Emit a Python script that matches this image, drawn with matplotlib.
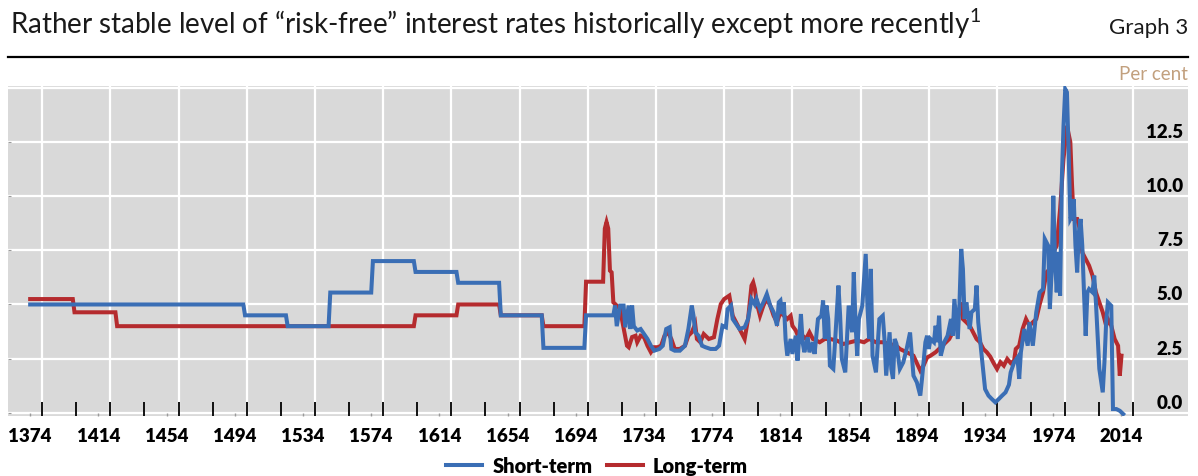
import matplotlib
matplotlib.use('Agg')
import matplotlib.pyplot as plt
from matplotlib.lines import Line2D
from matplotlib.transforms import ScaledTranslation

plt.rcParams['font.family'] = ['Lato', 'DejaVu Sans']
plt.rcParams['mathtext.fontset'] = 'custom'
plt.rcParams['mathtext.rm'] = 'Lato'

# short-term rate (per cent)
short_years = [1374, 1499, 1500, 1524, 1525, 1549, 1550, 1574, 1575, 1599, 1600, 1624, 1625, 1649,
               1650, 1674, 1675, 1699, 1700, 1716, 1717, 1718, 1720, 1722, 1723, 1725, 1726, 1727,
               1728, 1730, 1732, 1734, 1736, 1738, 1740, 1743, 1745, 1747, 1749, 1750, 1752, 1755,
               1758, 1760, 1762, 1763, 1764, 1766, 1768, 1770, 1773, 1776, 1778, 1780, 1782, 1783,
               1785, 1786, 1788, 1790, 1793, 1795, 1797, 1799, 1800, 1802, 1804, 1806, 1808, 1810,
               1812, 1813, 1814, 1815, 1816, 1817, 1818, 1820, 1821, 1823, 1824, 1826, 1827, 1828,
               1830, 1831, 1833, 1834, 1836, 1838, 1839, 1840, 1841, 1842, 1843, 1845, 1846, 1848,
               1849, 1850, 1852, 1853, 1854, 1856, 1857, 1858, 1859, 1860, 1862, 1864, 1865, 1866,
               1867, 1868, 1870, 1872, 1874, 1875, 1876, 1878, 1879, 1880, 1881, 1882, 1884, 1886,
               1888, 1890, 1892, 1894, 1896, 1897, 1899, 1900, 1901, 1902, 1904, 1905, 1906, 1907,
               1908, 1910, 1912, 1914, 1915, 1916, 1918, 1919, 1920, 1921, 1922, 1923, 1925, 1926,
               1928, 1929, 1930, 1932, 1934, 1936, 1938, 1940, 1942, 1944, 1946, 1948, 1949, 1951,
               1953, 1954, 1955, 1957, 1959, 1960, 1962, 1964, 1966, 1968, 1969, 1971, 1972, 1973,
               1974, 1975, 1976, 1977, 1978, 1979, 1980, 1981, 1982, 1983, 1984, 1985, 1986, 1987,
               1988, 1989, 1990, 1991, 1992, 1993, 1994, 1995, 1997, 1998, 1999, 2001, 2003, 2004,
               2005, 2006, 2008, 2009, 2011, 2013, 2015]
short_rates = [5.0, 5.0, 4.5, 4.5, 4.0, 4.0, 5.55, 5.55, 7.0, 7.0, 6.5, 6.5, 6.0, 6.0,
               4.5, 4.5, 3.0, 3.0, 4.5, 4.5, 4.95, 4.0, 4.95, 4.95, 3.95, 4.95, 3.87, 4.95,
               4.0, 3.8, 3.87, 3.64, 3.41, 3.1, 2.87, 2.95, 3.1, 3.87, 3.95, 2.95, 2.87, 2.87,
               3.1, 3.87, 4.95, 4.48, 3.72, 3.56, 3.1, 3.03, 2.95, 2.95, 3.1, 4.02, 3.95, 4.79,
               4.95, 4.33, 4.1, 3.87, 3.95, 4.33, 5.25, 5.0, 5.25, 4.79, 5.1, 5.48, 4.95, 4.64,
               4.02, 5.1, 5.18, 4.56, 5.1, 3.41, 2.64, 3.41, 2.72, 3.56, 2.41, 4.56, 3.26, 2.8,
               3.49, 2.8, 3.26, 2.72, 4.33, 4.48, 5.18, 3.41, 4.95, 4.33, 2.18, 2.03, 3.26, 5.87,
               4.48, 2.49, 1.87, 3.41, 4.95, 3.72, 6.48, 4.18, 2.64, 4.33, 4.95, 7.33, 4.95, 3.41,
               6.64, 2.64, 1.87, 4.33, 4.48, 3.41, 1.72, 3.72, 2.03, 1.57, 3.41, 3.2, 2.03, 2.33,
               2.95, 3.71, 1.72, 1.41, 0.8, 1.57, 3.26, 3.56, 2.95, 3.41, 3.26, 4.02, 3.26, 4.48,
               2.64, 3.26, 3.56, 4.33, 3.56, 5.25, 3.41, 5.1, 7.56, 6.64, 4.33, 5.1, 3.87, 4.64,
               4.79, 5.87, 4.18, 2.64, 1.1, 0.8, 0.64, 0.49, 0.64, 0.8, 0.95, 1.3, 1.87, 2.33,
               2.55, 1.57, 2.8, 3.87, 3.1, 4.18, 3.1, 4.64, 5.56, 5.71, 8.02, 7.71, 4.79, 6.48,
               10.01, 7.1, 5.56, 7.4, 5.41, 10.78, 13.24, 14.93, 14.78, 12.01, 8.94, 9.09, 9.86, 7.71,
               6.48, 8.33, 8.94, 7.71, 5.56, 3.56, 5.56, 5.71, 5.56, 6.33, 5.1, 2.03, 0.95, 2.34,
               4.18, 5.1, 4.94, 0.18, 0.18, 0.1, -0.05]

# long-term rate (per cent)
long_years = [1374, 1399, 1400, 1424, 1425, 1599, 1600, 1624, 1625, 1649, 1650, 1674, 1675, 1699,
              1700, 1710, 1711, 1712, 1713, 1714, 1715, 1716, 1718, 1720, 1721, 1724, 1725, 1727,
              1729, 1730, 1732, 1734, 1736, 1738, 1740, 1742, 1744, 1746, 1748, 1750, 1752, 1755,
              1758, 1760, 1762, 1764, 1765, 1767, 1769, 1772, 1775, 1777, 1779, 1781, 1784, 1786,
              1788, 1791, 1793, 1795, 1797, 1798, 1799, 1800, 1802, 1804, 1806, 1808, 1810, 1812,
              1814, 1816, 1818, 1820, 1821, 1823, 1825, 1827, 1829, 1831, 1833, 1835, 1837, 1840,
              1843, 1847, 1851, 1855, 1859, 1863, 1866, 1870, 1874, 1878, 1882, 1884, 1888, 1892,
              1894, 1896, 1898, 1900, 1902, 1905, 1909, 1913, 1915, 1917, 1919, 1920, 1921, 1923,
              1925, 1927, 1929, 1931, 1933, 1935, 1937, 1939, 1941, 1943, 1945, 1947, 1949, 1951,
              1952, 1954, 1956, 1958, 1960, 1962, 1964, 1966, 1968, 1970, 1972, 1974, 1976, 1978,
              1980, 1982, 1984, 1985, 1986, 1988, 1990, 1991, 1993, 1995, 1997, 1999, 2001, 2003,
              2005, 2006, 2008, 2010, 2012, 2013, 2014]
long_rates = [5.25, 5.25, 4.64, 4.64, 4.0, 4.0, 4.5, 4.5, 5.0, 5.0, 4.5, 4.5, 4.0, 4.0,
              6.05, 6.05, 8.5, 8.8, 8.5, 6.56, 6.48, 5.1, 4.95, 4.79, 4.33, 3.1, 3.03, 3.5,
              3.56, 3.26, 3.56, 3.49, 3.1, 2.8, 3.03, 3.03, 3.1, 3.56, 3.72, 3.41, 2.95, 2.95,
              3.1, 3.56, 3.72, 4.1, 3.41, 3.26, 3.64, 3.41, 3.49, 4.33, 5.02, 5.25, 5.41, 4.48,
              4.18, 3.72, 3.41, 4.33, 5.87, 6.02, 5.71, 5.1, 4.48, 4.95, 5.25, 4.95, 4.48, 4.18,
              4.64, 4.48, 4.33, 4.48, 4.02, 3.8, 3.41, 3.56, 3.41, 3.72, 3.41, 3.34, 3.26, 3.41,
              3.41, 3.34, 3.18, 3.26, 3.34, 3.26, 3.41, 3.26, 3.26, 3.18, 3.1, 2.95, 2.8, 2.64,
              2.3, 1.95, 2.2, 2.56, 2.64, 2.8, 3.1, 3.41, 3.72, 4.33, 4.64, 5.1, 4.33, 4.18,
              4.02, 3.72, 3.41, 3.26, 2.95, 2.8, 2.6, 2.3, 2.03, 2.34, 2.18, 2.49, 2.3, 2.4,
              2.95, 3.1, 3.87, 4.33, 4.02, 4.18, 4.33, 5.0, 5.56, 6.48, 6.64, 7.4, 7.71, 9.4,
              11.7, 13.24, 12.48, 10.48, 8.94, 8.94, 8.33, 7.4, 7.1, 6.79, 6.33, 5.56, 5.1, 4.64,
              4.02, 4.33, 4.02, 3.41, 3.1, 1.72, 2.64]

label_years = list(range(1374, 2015, 40))
grid_years = list(range(1381, 2022, 40))
mark_years = list(range(1381, 2022, 20))
y_ticks = [0.0, 2.5, 5.0, 7.5, 10.0, 12.5]

BLUE = '#3a6eb5'
RED = '#b52b2e'
GRAY_BG = '#d9d9d9'

fig = plt.figure(figsize=(11.98, 4.77), dpi=100)
ax = fig.add_axes([8 / 1198, 1 - 417 / 477, 1180 / 1198, 330 / 477])
ax.set_facecolor(GRAY_BG)
for s in ax.spines.values():
    s.set_visible(False)

ax.set_xlim(1361, 2053)
ax.set_ylim(-0.14, 15.07)

# white grid, vertical lines sit between the label positions as in the original
for g in grid_years:
    ax.axvline(g, color='white', lw=1.6, zorder=1)
for v in y_ticks + [15.0]:
    ax.axhline(v, color='white', lw=1.6, zorder=1)

ax.plot(long_years, long_rates, color=RED, lw=2.9, label='Long-term', zorder=3,
        solid_joinstyle='miter')
ax.plot(short_years, short_rates, color=BLUE, lw=2.9, label='Short-term', zorder=4,
        solid_joinstyle='miter')

# x axis: labels, tiny grey ticks at labels, black inward marks every 20 years
ax.set_xticks(label_years)
ax.set_xticklabels([str(y) for y in label_years], fontsize=13.5, fontweight='heavy')
ax.set_xticks(mark_years, minor=True)
ax.tick_params(axis='x', which='major', direction='in', length=2, width=1, color='#9a9a9a', pad=8)
ax.tick_params(axis='x', which='minor', direction='in', length=10, width=1.3, color='black')

# y axis: labels inside the plot on the right, a bit above their gridline
ax.set_yticks(y_ticks)
ax.set_yticklabels(['%.1f' % v for v in y_ticks], fontsize=13.5, fontweight='heavy')
ax.tick_params(axis='y', which='major', left=True, right=False, labelleft=False, labelright=True,
               direction='in', length=2, color='#9a9a9a', pad=0)
shift = ScaledTranslation(-0.05, 0.12, fig.dpi_scale_trans)
for lab in ax.get_yticklabels():
    lab.set_horizontalalignment('right')
    lab.set_transform(lab.get_transform() + shift)

# header
fig.text(10 / 1198, 1 - 34 / 477,
         'Rather stable level of \u201crisk-free\u201d interest rates historically except more recently$^{1}$',
         fontsize=20, ha='left', va='baseline', color='#1a1a1a')
fig.text(1188 / 1198, 1 - 34 / 477, 'Graph 3', fontsize=16, ha='right', va='baseline', color='#1a1a1a')
fig.add_artist(Line2D([8 / 1198, 1188 / 1198], [1 - 58 / 477, 1 - 58 / 477],
                      transform=fig.transFigure, color='black', lw=1.6))
fig.text(1188 / 1198, 1 - 74 / 477, 'Per cent', fontsize=13.5, ha='right', va='center', color='#c2a07e')

handles, labels = ax.get_legend_handles_labels()
fig.legend(handles[::-1], labels[::-1], loc='center', bbox_to_anchor=(597 / 1198, 1 - 467 / 477),
           ncol=2, frameon=False, prop={'size': 14.5, 'weight': 'heavy'},
           handlelength=1.8, handletextpad=0.5, columnspacing=0.7)

fig.savefig('out.png', dpi=100)
